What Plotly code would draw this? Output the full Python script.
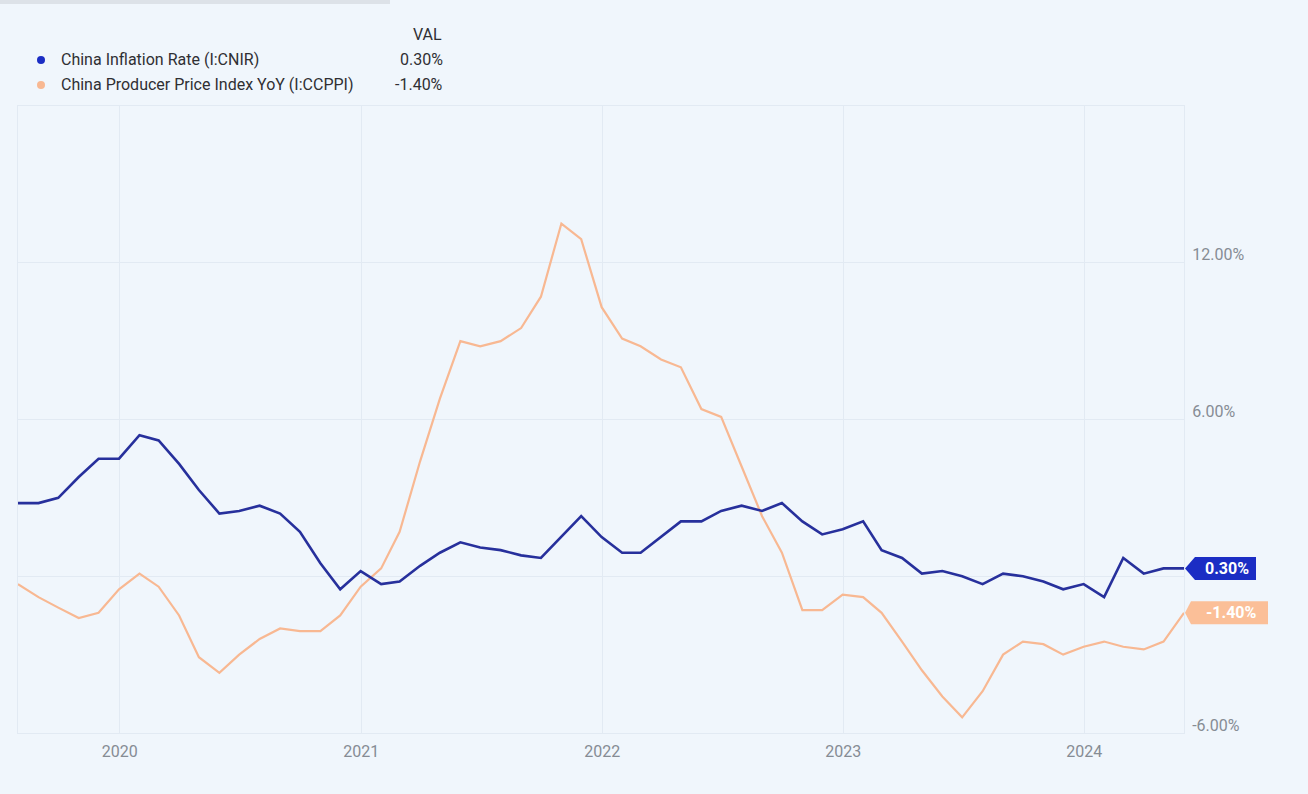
import pandas as pd
import plotly.graph_objects as go

# ---- data (monthly, Jul 2019 .. May 2024) ----
start_month = "2019-07-31"
cpi = [2.8, 2.8, 3.0, 3.8, 4.5, 4.5,
       5.4, 5.2, 4.3, 3.3, 2.4, 2.5, 2.7, 2.4, 1.7, 0.5, -0.5, 0.2,
       -0.3, -0.2, 0.4, 0.9, 1.3, 1.1, 1.0, 0.8, 0.7, 1.5, 2.3, 1.5,
       0.9, 0.9, 1.5, 2.1, 2.1, 2.5, 2.7, 2.5, 2.8, 2.1, 1.6, 1.8,
       2.1, 1.0, 0.7, 0.1, 0.2, 0.0, -0.3, 0.1, 0.0, -0.2, -0.5, -0.3,
       -0.8, 0.7, 0.1, 0.3, 0.3]
ppi = [-0.3, -0.8, -1.2, -1.6, -1.4, -0.5,
       0.1, -0.4, -1.5, -3.1, -3.7, -3.0, -2.4, -2.0, -2.1, -2.1, -1.5, -0.4,
       0.3, 1.7, 4.4, 6.8, 9.0, 8.8, 9.0, 9.5, 10.7, 13.5, 12.9, 10.3,
       9.1, 8.8, 8.3, 8.0, 6.4, 6.1, 4.2, 2.3, 0.9, -1.3, -1.3, -0.7,
       -0.8, -1.4, -2.5, -3.6, -4.6, -5.4, -4.4, -3.0, -2.5, -2.6, -3.0, -2.7,
       -2.5, -2.7, -2.8, -2.5, -1.4]
dates = pd.date_range(start_month, periods=len(cpi), freq="ME")

names = ["China Inflation Rate (I:CNIR)", "China Producer Price Index YoY (I:CCPPI)"]
y_range = [-6, 18]
y_tickvals = [-6, 0, 6, 12, 18]
y_ticktext = ["-6.00%", "", "6.00%", "12.00%", ""]

BLUE_LINE = "#27309c"
BLUE_TAG = "#1b2dc4"
ORANGE = "#f8b892"
ORANGE_TAG = "#fbbf98"
BG = "#f0f6fc"
GRID = "#e2eaf3"
FONT = "Roboto"
TXT = "#2f2f33"
TICK = "#868c94"

fig = go.Figure()
fig.add_trace(go.Scatter(x=dates, y=ppi, mode="lines", name=names[1],
                         line=dict(color=ORANGE, width=2.2), showlegend=False))
fig.add_trace(go.Scatter(x=dates, y=cpi, mode="lines", name=names[0],
                         line=dict(color=BLUE_LINE, width=2.6), showlegend=False))

L, R, T, B = 18, 124, 106, 61
W, H = 1308, 794
pw, ph = W - L - R, H - T - B


def px(x):
    return (x - L) / pw


def py(y):
    return (H - B - y) / ph


fig.update_layout(
    width=W, height=H,
    margin=dict(l=L, r=R, t=T, b=B, pad=0),
    paper_bgcolor=BG, plot_bgcolor=BG,
    font=dict(family=FONT, size=16, color=TICK),
    xaxis=dict(range=[dates[0], dates[-1]], tick0="2020-01-01", dtick="M12",
               tickformat="%Y", showgrid=True, gridcolor=GRID, gridwidth=1,
               showline=True, linecolor=GRID, mirror=True, zeroline=False,
               ticks="", ticklabelstandoff=4, tickfont=dict(size=16, color=TICK)),
    yaxis=dict(range=y_range, side="right", tickvals=y_tickvals, ticktext=y_ticktext,
               showgrid=True, gridcolor=GRID, gridwidth=1, zeroline=False,
               showline=True, linecolor=GRID, mirror=True, ticks="",
               ticklabelshift=-8, ticklabelstandoff=4,
               tickfont=dict(size=16, color=TICK)),
    hovermode=False,
)

# top-left artifact strip
fig.add_shape(type="rect", xref="paper", yref="paper", x0=px(0), x1=px(390),
              y0=py(4), y1=py(0), fillcolor="#dde2e8", line=dict(width=0), layer="below")

# legend (custom)
legend_y = [60, 85]
colors = [BLUE_TAG, ORANGE]
vals = [cpi[-1], ppi[-1]]
fig.add_annotation(xref="paper", yref="paper", x=px(444), y=py(35), text="VAL",
                   showarrow=False, xanchor="right", yanchor="middle",
                   font=dict(family=FONT, size=16, color=TXT))
for i in range(2):
    fig.add_shape(type="circle", xref="paper", yref="paper",
                  x0=px(37), x1=px(45), y0=py(legend_y[i] + 4), y1=py(legend_y[i] - 4),
                  fillcolor=colors[i], line=dict(width=0))
    fig.add_annotation(xref="paper", yref="paper", x=px(59), y=py(legend_y[i]),
                       text=names[i], showarrow=False, xanchor="left", yanchor="middle",
                       font=dict(family=FONT, size=16, color=TXT))
    fig.add_annotation(xref="paper", yref="paper", x=px(445), y=py(legend_y[i]),
                       text=f"{vals[i]:.2f}%", showarrow=False, xanchor="right",
                       yanchor="middle", font=dict(family=FONT, size=16, color=TXT))

# end-value tags (anchored at right edge of the plot, at the last value)
tag_specs = [(cpi[-1], BLUE_TAG, 72, 11), (ppi[-1], ORANGE_TAG, 84, 7)]
for v, c, wdt, notch in tag_specs:
    yfrac = (v - y_range[0]) / (y_range[1] - y_range[0])
    fig.add_shape(type="path", xref="paper", yref="paper", xsizemode="pixel", ysizemode="pixel",
                  xanchor=1, yanchor=yfrac,
                  path=f"M 1 0 L {notch} 11.5 L {wdt} 11.5 L {wdt} -11.5 L {notch} -11.5 Z",
                  fillcolor=c, line=dict(width=0), layer="above")
    fig.add_annotation(x=1, y=yfrac, xref="paper", yref="paper", text=f"<b>{v:.2f}%</b>",
                       showarrow=False, xanchor="center", yanchor="middle",
                       xshift=(wdt + notch) / 2 + 1, font=dict(family=FONT, size=16, color="white"))

fig.write_html("out.html")
